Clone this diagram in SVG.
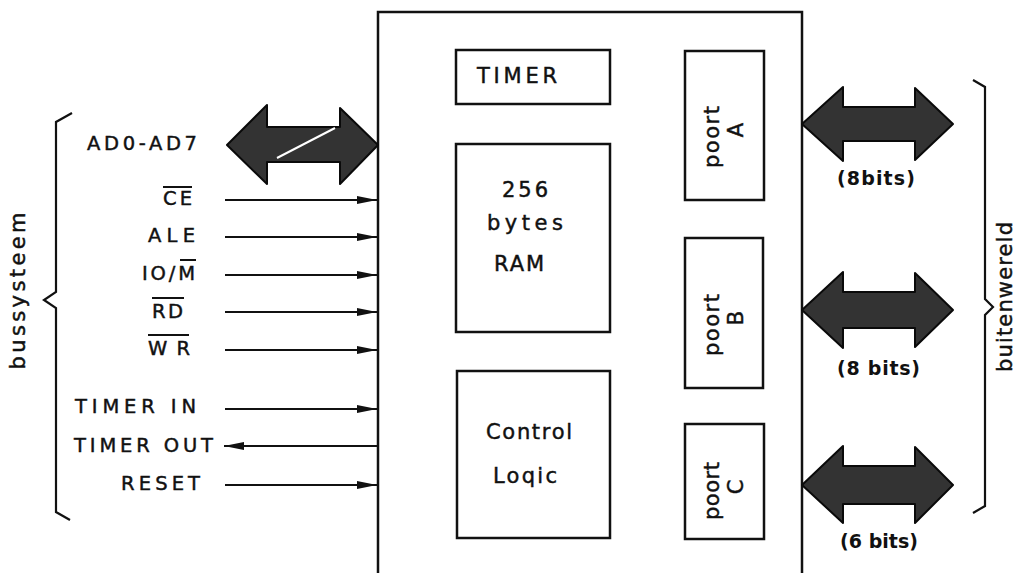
<svg xmlns="http://www.w3.org/2000/svg" width="1016" height="573" viewBox="0 0 1016 573">
<style>
  .box { fill: none; stroke: #111; stroke-width: 2.5; }
  .lbl { font-family: "DejaVu Sans", "Liberation Sans", sans-serif; font-size: 19.5px; fill: #111; stroke: #111; stroke-width: 0.45; }
  .in { font-family: "DejaVu Sans", "Liberation Sans", sans-serif; font-size: 21px; fill: #111; stroke: #111; stroke-width: 0.45; }
  .bits { font-family: "DejaVu Sans", "Liberation Sans", sans-serif; font-size: 19px; font-weight: bold; fill: #111; }
  .wire { stroke: #111; stroke-width: 2.2; fill: none; }
  .ovl { stroke: #111; stroke-width: 2; }
  .bus { fill: #333; stroke: #0a0a0a; stroke-width: 2; stroke-linejoin: round; }
  .brace { fill: none; stroke: #111; stroke-width: 2.2; stroke-linejoin: miter; }
</style>
<defs>
  <marker id="ah" markerUnits="userSpaceOnUse" markerWidth="22" markerHeight="10" refX="20" refY="5" orient="auto">
    <path d="M0,1 L20,5 L0,9 Z" fill="#111"/>
  </marker>
</defs>
<rect width="1016" height="573" fill="#fff"/>

<g id="chip">
  <rect class="box" x="378" y="12" width="424" height="580"/>
</g>
<g id="timer">
  <rect class="box" x="456" y="50" width="154" height="54"/>
  <text class="in" x="477" y="83" textLength="80" lengthAdjust="spacing">TIMER</text>
</g>
<g id="ram">
  <rect class="box" x="456" y="144" width="154" height="188"/>
  <text class="in" x="502" y="197" textLength="46" lengthAdjust="spacing">256</text>
  <text class="in" x="487" y="230" textLength="76" lengthAdjust="spacing">bytes</text>
  <text class="in" x="494" y="271" textLength="50" lengthAdjust="spacing">RAM</text>
</g>
<g id="control">
  <rect class="box" x="457" y="371" width="153" height="167"/>
  <text class="in" x="486" y="439" textLength="86" lengthAdjust="spacing">Control</text>
  <text class="in" x="493" y="483" textLength="64" lengthAdjust="spacing">Loqic</text>
</g>
<g id="poortA">
  <rect class="box" x="685" y="51" width="79" height="149"/>
  <text class="in" transform="translate(719,137) rotate(-90)" text-anchor="middle" textLength="62" lengthAdjust="spacing">poort</text>
  <text class="in" transform="translate(743,130) rotate(-90)" text-anchor="middle">A</text>
</g>
<g id="poortB">
  <rect class="box" x="685" y="238" width="78" height="150"/>
  <text class="in" transform="translate(719,325) rotate(-90)" text-anchor="middle" textLength="62" lengthAdjust="spacing">poort</text>
  <text class="in" transform="translate(743,318) rotate(-90)" text-anchor="middle">B</text>
</g>
<g id="poortC">
  <rect class="box" x="685" y="424" width="79" height="115"/>
  <text class="in" transform="translate(719,491) rotate(-90)" text-anchor="middle" textLength="58" lengthAdjust="spacing">poort</text>
  <text class="in" transform="translate(743,487) rotate(-90)" text-anchor="middle">C</text>
</g>

<g id="labels-left">
  <text class="lbl" x="87" y="150" textLength="110" lengthAdjust="spacing">AD0-AD7</text>
  <text class="lbl" x="163" y="205" textLength="29" lengthAdjust="spacing">CE</text>
  <line class="ovl" x1="163" y1="187" x2="192" y2="187"/>
  <text class="lbl" x="148" y="242" textLength="47" lengthAdjust="spacing">ALE</text>
  <text class="lbl" x="142" y="280" textLength="53" lengthAdjust="spacing">IO/M</text>
  <line class="ovl" x1="180" y1="260" x2="196" y2="260"/>
  <text class="lbl" x="152" y="318" textLength="31" lengthAdjust="spacing">RD</text>
  <line class="ovl" x1="152" y1="298" x2="184" y2="298"/>
  <text class="lbl" x="148" y="355" textLength="42" lengthAdjust="spacing">WR</text>
  <line class="ovl" x1="148" y1="335" x2="189" y2="335"/>
  <text class="lbl" x="75" y="413" textLength="121" lengthAdjust="spacing">TIMER IN</text>
  <text class="lbl" x="74" y="452" textLength="139" lengthAdjust="spacing">TIMER OUT</text>
  <text class="lbl" x="121" y="490" textLength="79" lengthAdjust="spacing">RESET</text>
  <text class="in" transform="translate(25,291) rotate(-90)" text-anchor="middle" textLength="157" lengthAdjust="spacing">bussysteem</text>
</g>

<g id="labels-right">
  <text class="bits" x="837" y="185" textLength="78" lengthAdjust="spacing">(8bits)</text>
  <text class="bits" x="837" y="375" textLength="83" lengthAdjust="spacing">(8 bits)</text>
  <text class="bits" x="840" y="548" textLength="78" lengthAdjust="spacing">(6 bits)</text>
  <text class="in" transform="translate(1012,297) rotate(-90)" text-anchor="middle" textLength="150" lengthAdjust="spacing">buitenwereld</text>
</g>

<g id="connectors">
  <path class="bus" d="M227,145 L267,105 L267,127 L340,127 L340,108 L378,145 L340,184 L340,162 L267,162 L267,184 Z"/>
  <line x1="277" y1="158" x2="335" y2="128" stroke="#fff" stroke-width="2"/>
  <path class="bus" d="M802,124 L843,87 L843,107 L915,107 L915,88 L953,124 L915,160 L915,141 L843,141 L843,161 Z"/>
  <path class="bus" d="M802,310 L843,272 L843,292 L915,292 L915,273 L953,310 L915,347 L915,328 L843,328 L843,348 Z"/>
  <path class="bus" d="M802,485 L843,446 L843,466 L915,466 L915,447 L953,485 L915,523 L915,504 L843,504 L843,523 Z"/>

  <line class="wire" x1="225" y1="200" x2="377" y2="200" marker-end="url(#ah)"/>
  <line class="wire" x1="225" y1="237" x2="377" y2="237" marker-end="url(#ah)"/>
  <line class="wire" x1="225" y1="275" x2="377" y2="275" marker-end="url(#ah)"/>
  <line class="wire" x1="225" y1="312" x2="377" y2="312" marker-end="url(#ah)"/>
  <line class="wire" x1="225" y1="350" x2="377" y2="350" marker-end="url(#ah)"/>
  <line class="wire" x1="225" y1="409" x2="377" y2="409" marker-end="url(#ah)"/>
  <line class="wire" x1="378" y1="446" x2="224" y2="446" marker-end="url(#ah)"/>
  <line class="wire" x1="225" y1="485" x2="377" y2="485" marker-end="url(#ah)"/>

  <path class="brace" d="M72,113 L56,122 L56,292 L44,300 L56,308 L56,512 L70,520"/>
  <path class="brace" d="M973,80 L985,87 L985,299 L993,307 L985,315 L985,506 L973,513"/>
</g>
</svg>
